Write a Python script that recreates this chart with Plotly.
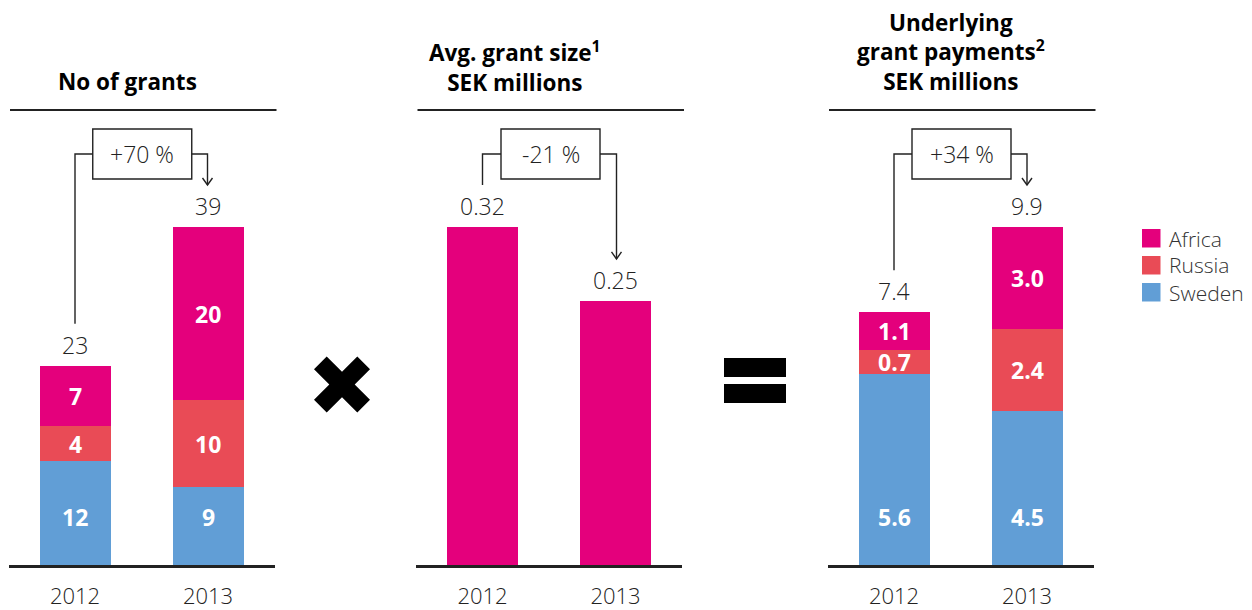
import plotly.graph_objects as go

# ---- data ----
years = ["2012", "2013"]

grants_sweden = [12, 9]
grants_russia = [4, 10]
grants_africa = [7, 20]
grants_total = ["23", "39"]

avg_grant_size = [0.32, 0.25]
avg_grant_labels = ["0.32", "0.25"]

payments_sweden = [5.6, 4.5]
payments_russia = [0.7, 2.4]
payments_africa = [1.1, 3.0]
payments_total = ["7.4", "9.9"]

change_labels = ["+70 %", "-21 %", "+34 %"]
panel_titles = [
    ["No of grants"],
    ["Avg. grant size<sup>1</sup>", "SEK millions"],
    ["Underlying", "grant payments<sup>2</sup>", "SEK millions"],
]
region_names = ["Africa", "Russia", "Sweden"]

# ---- styling ----
W, H = 1252, 610
AFRICA = "#E4007C"
RUSSIA = "#E94B56"
SWEDEN = "#619ED6"
INK = "#222222"
FONT = "Open Sans"

BASE_PX = 565      # baseline of all panels
TOP_PX = 110       # header rule / top of plotting area
TALLEST_PX = 227   # where the tallest bar of each panel ends
CAT_STEP = 133     # pixel distance between the two years
BAR_W = 0.54

bar_centers = [(75, 207.5), (482.5, 616.5), (894, 1027)]
title_centers = [127.5, 514.5, 950.5]
TITLE_LAST_LINE_PX = 81
TITLE_SIZE = 22.5
TITLE_LINE_STEP = 1.3 * TITLE_SIZE


def fx(px):
    return px / W


def fy(py):
    return 1 - py / H


def fmt(v):
    return f"{v:d}" if isinstance(v, int) else f"{v:.1f}"


fig = go.Figure()

panels = [
    {"stacks": [(grants_sweden, SWEDEN, "Sweden"), (grants_russia, RUSSIA, "Russia"),
                (grants_africa, AFRICA, "Africa")], "totals": grants_total},
    {"stacks": [(avg_grant_size, AFRICA, "Avg")], "totals": avg_grant_labels},
    {"stacks": [(payments_sweden, SWEDEN, "Sweden"), (payments_russia, RUSSIA, "Russia"),
                (payments_africa, AFRICA, "Africa")], "totals": payments_total},
]

shapes = []
annotations = []
ydom = [fy(BASE_PX), fy(TOP_PX)]
num_font = dict(family=FONT, size=23, color=INK, weight=300)
year_font = dict(family=FONT, size=22, color=INK, weight=300)
seg_font = dict(family=FONT, size=23, color="white", weight="bold")

for k, panel in enumerate(panels):
    suffix = "" if k == 0 else str(k + 1)
    xa, ya = "x" + suffix, "y" + suffix
    c0, c1 = bar_centers[k]
    x_lo = c0 - CAT_STEP / 2
    x_hi = x_lo + 2 * CAT_STEP

    sums = [sum(s[0][i] for s in panel["stacks"]) for i in range(2)]
    ymax = max(sums) * (BASE_PX - TOP_PX) / (BASE_PX - TALLEST_PX)

    for vals, color, name in panel["stacks"]:
        fig.add_trace(go.Bar(
            x=[0, 1], y=vals, marker=dict(color=color, line=dict(width=0)),
            width=BAR_W, xaxis=xa, yaxis=ya, name=name, showlegend=False,
            hoverinfo="skip",
        ))

    # segment labels inside stacked bars (Sweden sits near the bottom)
    if len(panel["stacks"]) > 1:
        for i in range(2):
            base = 0
            for vals, color, name in panel["stacks"]:
                v = vals[i]
                if name == "Sweden":
                    pos = dict(y=0, yshift=48)
                else:
                    pos = dict(y=base + v / 2)
                annotations.append(dict(
                    x=i, xref=xa, yref=ya, text=f"<b>{fmt(v)}</b>", showarrow=False,
                    xanchor="center", yanchor="middle", font=seg_font, **pos,
                ))
                base += v

    # totals above bars
    for i in range(2):
        annotations.append(dict(
            x=i, y=sums[i], xref=xa, yref=ya, yshift=21,
            xanchor="center", yanchor="middle",
            text=panel["totals"][i], showarrow=False, font=num_font,
        ))

    fig.update_layout(**{
        ("xaxis" + suffix): dict(
            domain=[fx(x_lo), fx(x_hi)], range=[-0.5, 1.5], tickvals=[0, 1],
            ticktext=years, showgrid=False, zeroline=False, showline=True,
            linecolor=INK, linewidth=3, ticks="", ticklabelstandoff=10,
            tickfont=year_font, anchor=ya, fixedrange=True,
        ),
        ("yaxis" + suffix): dict(
            domain=ydom, range=[0, ymax], showgrid=False, zeroline=False,
            showticklabels=False, showline=False, anchor=xa, fixedrange=True,
        ),
    })

    # header rule and title
    shapes.append(dict(type="line", xref="paper", yref="paper",
                       x0=fx(x_lo + 1.5), x1=fx(x_hi + 2), y0=fy(TOP_PX), y1=fy(TOP_PX),
                       line=dict(color=INK, width=2)))
    lines = panel_titles[k]
    title_mid = TITLE_LAST_LINE_PX - (len(lines) - 1) * TITLE_LINE_STEP / 2
    annotations.append(dict(
        x=fx(title_centers[k]), y=fy(title_mid), xref="paper", yref="paper",
        xanchor="center", yanchor="middle", align="center",
        text="<br>".join(f"<b>{t}</b>" for t in lines), showarrow=False,
        font=dict(family=FONT, size=TITLE_SIZE, color="black", weight="bold"),
    ))

    # change box with connectors
    def top_px(v):
        return BASE_PX - v / ymax * (BASE_PX - TOP_PX)

    bx = (c0 + c1) / 2 + 1
    box_l, box_r, box_t, box_b, mid = bx - 49.5, bx + 49.5, 129, 179, 154
    shapes.append(dict(type="rect", xref="paper", yref="paper",
                       x0=fx(box_l), x1=fx(box_r), y0=fy(box_t), y1=fy(box_b),
                       line=dict(color=INK, width=1.4), fillcolor="white"))
    annotations.append(dict(
        x=fx(bx), y=fy(mid), xref="paper", yref="paper", text=change_labels[k],
        xanchor="center", yanchor="middle", showarrow=False, font=num_font,
    ))
    end0 = top_px(sums[0]) - 42
    end1 = top_px(sums[1]) - 42
    shapes.append(dict(type="path", xref="paper", yref="paper",
                       path=f"M{fx(box_l)},{fy(mid)} L{fx(c0)},{fy(mid)} L{fx(c0)},{fy(end0)}",
                       line=dict(color=INK, width=1.4)))
    shapes.append(dict(type="path", xref="paper", yref="paper",
                       path=f"M{fx(box_r)},{fy(mid)} L{fx(c1)},{fy(mid)} L{fx(c1)},{fy(end1)}",
                       line=dict(color=INK, width=1.4)))
    shapes.append(dict(type="path", xref="paper", yref="paper",
                       path=(f"M{fx(c1 - 5)},{fy(end1 - 7)} L{fx(c1)},{fy(end1)} "
                             f"L{fx(c1 + 5)},{fy(end1 - 7)}"),
                       line=dict(color=INK, width=1.4)))

# multiplication sign
cx, cy, s, a = 342, 384.5, 28, 12.7
pts = [(0, a), (s - a, s), (s, s - a), (a, 0), (s, -(s - a)), (s - a, -s), (0, -a),
       (-(s - a), -s), (-s, -(s - a)), (-a, 0), (-s, s - a), (-(s - a), s)]
path = "M" + " L".join(f"{fx(cx + px)},{fy(cy - py)}" for px, py in pts) + " Z"
shapes.append(dict(type="path", xref="paper", yref="paper", path=path,
                   fillcolor="black", line=dict(width=0)))

# equals sign
for y0, y1 in [(358, 377), (384, 403)]:
    shapes.append(dict(type="rect", xref="paper", yref="paper",
                       x0=fx(724), x1=fx(786), y0=fy(y0), y1=fy(y1),
                       fillcolor="black", line=dict(width=0)))

# legend
legend_colors = {"Africa": AFRICA, "Russia": RUSSIA, "Sweden": SWEDEN}
for j, name in enumerate(region_names):
    top = 229 + 27 * j
    shapes.append(dict(type="rect", xref="paper", yref="paper",
                       x0=fx(1142), x1=fx(1160.5), y0=fy(top), y1=fy(top + 18.5),
                       fillcolor=legend_colors[name], line=dict(width=0)))
    annotations.append(dict(
        x=fx(1167), y=fy(top + 9.5), xref="paper", yref="paper",
        xanchor="left", yanchor="middle", text=name, showarrow=False,
        font=dict(family=FONT, size=21, color="#333333", weight=300),
    ))

fig.update_layout(
    width=W, height=H, margin=dict(l=0, r=0, t=0, b=0, autoexpand=False),
    paper_bgcolor="white", plot_bgcolor="white",
    barmode="stack", bargap=0, showlegend=False,
    shapes=shapes, annotations=annotations,
)

fig.write_html("out.html", config={"displayModeBar": False})
